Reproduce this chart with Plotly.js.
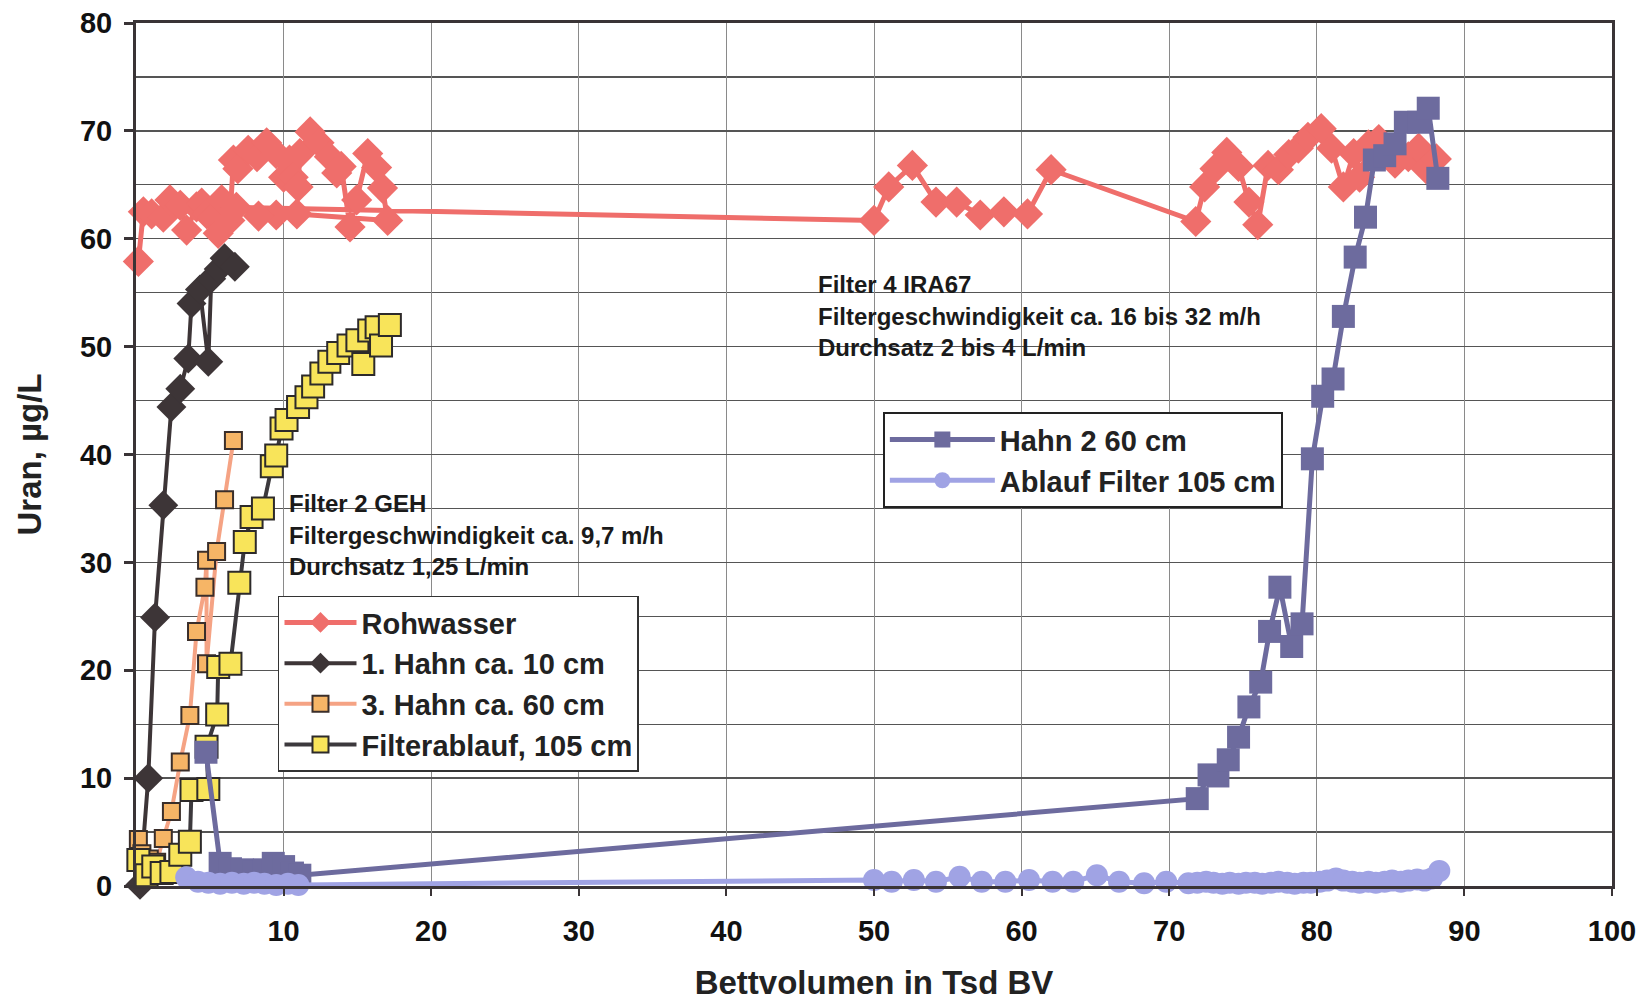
<!DOCTYPE html>
<html>
<head>
<meta charset="utf-8">
<script src="https://cdn.plot.ly/plotly-3.0.1.min.js"></script>
<style>html,body{margin:0;padding:0;background:#fff;}#chart{width:1644px;height:1001px;}</style>
</head>
<body>
<div id="chart"></div>
<script>
// Rohwasser
const rohX = [0.16,0.5,1.06,1.85,2.3,3.0,3.43,4.1,4.45,4.8,5.2,5.57,5.8,6.36,6.6,6.9,7.6,8.2,8.85,9.5,10.0,10.4,10.65,10.98,11.1,11.8,12.4,13.1,13.6,13.9,14.5,14.95,15.7,16.3,16.7,17.05,10.9,9.5,8.3,6.8,50.0,51.0,52.6,54.2,55.6,57.2,58.8,60.4,62.0,71.8,72.4,73.1,73.9,74.7,75.4,76.0,76.7,77.4,78.1,78.75,79.4,80.3,81.0,81.8,82.5,82.9,83.5,84.2,85.3,86.2,86.9,87.4,88.1];
const rohY = [57.9,62.5,62.3,62.0,63.6,63.1,60.8,62.95,63.3,62.3,62.0,60.5,63.6,61.7,67.3,66.5,68.2,67.6,68.9,67.9,65.7,67.3,65.7,64.8,67.9,69.9,68.9,67.6,66.1,66.7,61.1,63.6,67.9,66.6,64.7,61.7,62.3,62.2,62.1,62.9,61.7,64.8,66.8,63.4,63.4,62.2,62.5,62.3,66.4,61.6,64.8,66.5,68.0,66.7,63.4,61.3,66.8,66.4,67.8,68.4,69.4,70.2,68.4,64.8,67.9,65.7,68.7,69.2,67.0,67.6,68.4,66.5,67.4];
// 1. Hahn ca. 10 cm
const hahn1X = [0.27,0.83,1.29,1.85,2.4,3.0,3.54,3.76,4.33,4.9,5.1,5.6,6.0,6.7];
const hahn1Y = [0.1,10.0,24.9,35.3,44.4,46.1,48.9,54.0,55.3,48.6,56.3,57.2,58.2,57.4];
// 3. Hahn ca. 60 cm
const hahn3X = [0.16,0.4,0.9,1.4,1.85,2.4,3.0,3.65,4.1,4.67,4.78,4.78,5.46,6.0,6.6];
const hahn3Y = [4.3,3.0,2.5,2.2,4.4,6.9,11.5,15.8,23.6,27.7,30.2,20.6,31.0,35.8,41.3];
// Filterablauf, 105 cm
const filtX = [0.16,0.72,1.17,1.74,2.4,3.0,3.65,3.76,4.9,4.78,5.5,5.57,6.4,7.0,7.37,7.83,8.6,9.2,9.5,9.86,10.2,10.98,11.55,12.0,12.56,13.1,13.7,14.4,15.0,15.4,15.8,16.3,16.6,17.2];
const filtY = [2.4,1.0,1.8,1.2,1.3,2.9,4.1,8.9,9.0,12.9,15.9,20.3,20.6,28.1,31.9,34.2,35.0,38.9,39.9,42.4,43.2,44.4,45.3,46.3,47.5,48.6,49.4,50.1,50.6,48.4,51.5,51.8,50.1,52.0];
// Hahn 2 60 cm
const h2X = [4.74,5.7,6.4,7.2,8.0,8.7,9.3,10.0,10.6,11.1,71.9,72.7,73.3,74.0,74.7,75.4,76.2,76.8,77.5,78.3,79.0,79.7,80.4,81.1,81.8,82.6,83.3,83.9,84.6,85.3,86.0,86.9,87.55,88.2];
const h2Y = [12.4,2.1,1.6,1.5,1.3,1.5,2.1,1.8,1.2,1.0,8.1,10.3,10.2,11.7,13.8,16.6,18.9,23.6,27.7,22.2,24.3,39.6,45.4,47.0,52.8,58.3,62.0,67.3,67.7,68.8,70.8,70.8,72.1,65.6];
// Ablauf Filter 105 cm
const abX = [3.4,4.2,4.9,5.7,6.5,7.3,8.0,8.7,9.5,10.3,11.0,50.0,51.2,52.7,54.2,55.8,57.3,58.9,60.5,62.1,63.5,65.1,66.6,68.3,69.8,71.3,71.9,72.5,73.0,73.6,74.1,74.7,75.2,75.8,76.3,76.9,77.4,78.0,78.5,79.1,79.6,80.2,80.7,81.3,81.8,82.4,82.9,83.5,84.0,84.6,85.1,85.7,86.2,86.8,87.3,87.8,88.3];
const abY = [0.8,0.4,0.3,0.2,0.3,0.2,0.3,0.2,0.1,0.2,0.1,0.56,0.4,0.56,0.4,0.86,0.4,0.4,0.56,0.4,0.4,1.0,0.4,0.25,0.4,0.25,0.3,0.4,0.3,0.2,0.3,0.2,0.3,0.3,0.2,0.3,0.4,0.3,0.2,0.3,0.3,0.4,0.5,0.7,0.5,0.4,0.3,0.4,0.3,0.4,0.5,0.4,0.5,0.6,0.5,0.7,1.4];

const xTicks = [10,20,30,40,50,60,70,80,90,100];
const seriesNames = ['Rohwasser','1. Hahn ca. 10 cm','3. Hahn ca. 60 cm','Filterablauf, 105 cm','Hahn 2 60 cm','Ablauf Filter 105 cm'];
const note1 = ['Filter 2 GEH','Filtergeschwindigkeit ca. 9,7 m/h','Durchsatz 1,25 L/min'];
const note1Pos = {x:10.2, y:[35.5,32.5,29.6]};
const note2 = ['Filter 4 IRA67','Filtergeschwindigkeit ca. 16 bis 32 m/h','Durchsatz 2 bis 4 L/min'];
const note2Pos = {x:46.1, y:[55.8,52.8,49.95]};

const FONT = 'Liberation Sans, Arial, sans-serif';
const dark = '#3a3436';

const traces = [
  {x:rohX, y:rohY, name:seriesNames[0], mode:'lines+markers', legend:'legend', cliponaxis:false,
   line:{color:'#ef6e6b', width:5}, marker:{symbol:'diamond', size:24, color:'#ef6e6b', line:{width:0}}},
  {x:hahn1X, y:hahn1Y, name:seriesNames[1], mode:'lines+markers', legend:'legend', cliponaxis:false,
   line:{color:'#3d3537', width:4}, marker:{symbol:'diamond', size:23, color:'#3d3537', line:{width:0}}},
  {x:hahn3X, y:hahn3Y, name:seriesNames[2], mode:'lines+markers', legend:'legend', cliponaxis:false,
   line:{color:'#f5a384', width:4}, marker:{symbol:'square', size:17, color:'#f6b566', line:{width:2, color:'#3a2e2a'}}},
  {x:filtX, y:filtY, name:seriesNames[3], mode:'lines+markers', legend:'legend', cliponaxis:false,
   line:{color:'#3c393d', width:4}, marker:{symbol:'square', size:22, color:'#f8e45a', line:{width:2, color:'#2d2a2a'}}},
  {x:h2X, y:h2Y, name:seriesNames[4], mode:'lines+markers', legend:'legend2', cliponaxis:false,
   line:{color:'#6d6b9e', width:5}, marker:{symbol:'square', size:23, color:'#6d6b9e', line:{width:0}}},
  {x:abX, y:abY, name:seriesNames[5], mode:'lines+markers', legend:'legend2', cliponaxis:false,
   line:{color:'#a0a3e4', width:5}, marker:{symbol:'circle', size:22, color:'#a0a3e4', line:{width:0}}}
];

const annotations = [];
note1.forEach((t,i)=>annotations.push({x:note1Pos.x, y:note1Pos.y[i], xref:'x', yref:'y', text:t, showarrow:false, xanchor:'left', yanchor:'middle', font:{family:FONT, size:24, weight:'bold', color:'#1a1a1a'}}));
note2.forEach((t,i)=>annotations.push({x:note2Pos.x, y:note2Pos.y[i], xref:'x', yref:'y', text:t, showarrow:false, xanchor:'left', yanchor:'middle', font:{family:FONT, size:24, weight:'bold', color:'#1a1a1a'}}));

const layout = {
  width:1644, height:1001,
  margin:{l:136, r:32, t:23, b:115},
  paper_bgcolor:'#fff', plot_bgcolor:'#fff',
  showlegend:true,
  font:{family:FONT, color:'#111'},
  xaxis:{range:[0,100], tickvals:xTicks, ticks:'outside', ticklen:7, tickwidth:2, tickcolor:dark,
    showgrid:true, gridcolor:'#8a8a8a', gridwidth:1, zeroline:false,
    showline:true, linewidth:3, linecolor:dark, mirror:true,
    tickfont:{family:FONT, size:29, weight:'bold', color:'#111'}, ticklabelstandoff:10,
    title:{text:'Bettvolumen in Tsd BV', font:{family:FONT, size:33, weight:'bold', color:'#222'}, standoff:28}},
  yaxis:{range:[0,80], dtick:10, ticks:'outside', ticklen:9, tickwidth:3, tickcolor:dark,
    showgrid:true, gridcolor:'#555', gridwidth:1.3, zeroline:false,
    minor:{dtick:5, showgrid:true, gridcolor:'#555', gridwidth:1.3},
    showline:true, linewidth:3, linecolor:dark, mirror:true,
    tickfont:{family:FONT, size:29, weight:'bold', color:'#111'}, ticklabelstandoff:6,
    title:{text:'Uran, µg/L', font:{family:FONT, size:33, weight:'bold', color:'#222'}, standoff:29}},
  legend:{x:0.0962, y:0.3365, xanchor:'left', yanchor:'top', bgcolor:'#fff', bordercolor:'#333', borderwidth:1.5,
    font:{family:FONT, size:29, weight:'bold', color:'#222'}, tracegroupgap:0, itemwidth:72},
  legend2:{x:0.506, y:0.549, xanchor:'left', yanchor:'top', bgcolor:'#fff', bordercolor:'#222', borderwidth:2,
    font:{family:FONT, size:29, weight:'bold', color:'#222'}, itemwidth:105},
  annotations:annotations
};

Plotly.newPlot('chart', traces, layout, {staticPlot:true, displayModeBar:false});
</script>
</body>
</html>
